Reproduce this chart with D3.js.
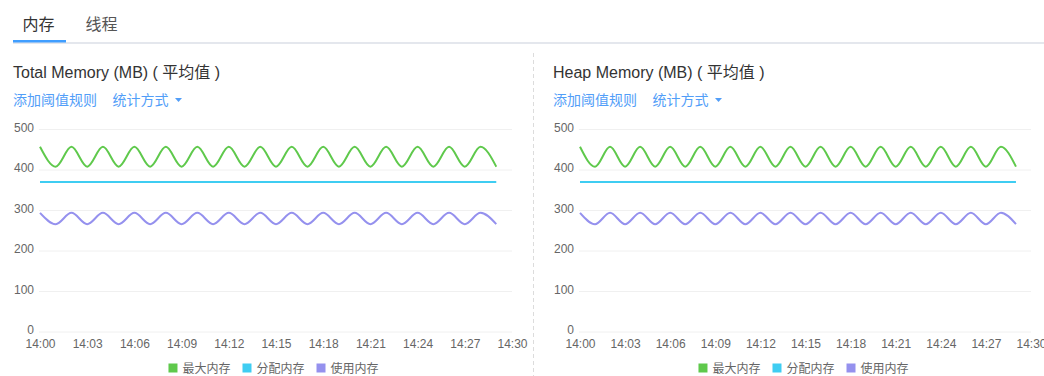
<!DOCTYPE html>
<html><head><meta charset="utf-8">
<script src="https://cdn.jsdelivr.net/npm/d3@7"></script>
<style>
html,body{margin:0;padding:0;background:#fff;overflow:hidden;}
svg{display:block;font-family:"Liberation Sans",Arial,"Noto Sans CJK SC",sans-serif;}
</style></head><body>
<svg id="c" width="1044" height="376"></svg>
<script>
// ---- data ----
const times = ["14:00","14:01","14:02","14:03","14:04","14:05","14:06","14:07","14:08","14:09",
               "14:10","14:11","14:12","14:13","14:14","14:15","14:16","14:17","14:18","14:19",
               "14:20","14:21","14:22","14:23","14:24","14:25","14:26","14:27","14:28","14:29"];
const maxMem   = [456,407,456,407,456,407,456,407,456,407,456,407,456,407,456,407,456,407,456,407,456,407,456,407,456,407,456,407,456,407];
const allocMem = [369,369,369,369,369,369,369,369,369,369,369,369,369,369,369,369,369,369,369,369,369,369,369,369,369,369,369,369,369,369];
const usedMem  = [293,265,293,265,293,265,293,265,293,265,293,265,293,265,293,265,293,265,293,265,293,265,293,265,293,265,293,265,293,265];
const seriesNames = ["最大内存","分配内存","使用内存"];
const seriesColors = ["#5fc94c","#3fcdf2","#9591ee"];
const yTicks = [0,100,200,300,400,500];
const xTicks = ["14:00","14:03","14:06","14:09","14:12","14:15","14:18","14:21","14:24","14:27","14:30"];
const tabs = ["内存","线程"];
const panelTitles = ["Total Memory (MB) ( 平均值 )","Heap Memory (MB) ( 平均值 )"];
const linkTexts = ["添加阈值规则","统计方式"];

const parse = d3.timeParse("%H:%M");
const svg = d3.select("#c");

// ---- tabs ----
svg.append("rect").attr("x",13).attr("y",42).attr("width",1031).attr("height",2).attr("fill","#e4e7ed");
svg.append("rect").attr("x",13).attr("y",40).attr("width",53).attr("height",2.5).attr("fill","#409eff");
svg.append("text").attr("x",22.5).attr("y",29.5).attr("font-size",16).attr("fill","#333").text(tabs[0]);
svg.append("text").attr("x",85.5).attr("y",29.5).attr("font-size",16).attr("fill","#555").text(tabs[1]);

// divider
svg.append("line").attr("x1",533.5).attr("x2",533.5).attr("y1",53).attr("y2",376)
  .attr("stroke","#dcdcdc").attr("stroke-dasharray","4,3");

const series = [maxMem, allocMem, usedMem];

function drawPanel(title, ox, x0, x1, legendCx) {
  const g = svg.append("g");
  g.append("text").attr("x",ox).attr("y",77.5).attr("font-size",16).attr("fill","#333").text(title);
  g.append("text").attr("x",ox).attr("y",104.5).attr("font-size",14).attr("fill","#529ef8").text(linkTexts[0]);
  g.append("text").attr("x",ox+99.5).attr("y",104.5).attr("font-size",14).attr("fill","#529ef8").text(linkTexts[1]);
  g.append("path").attr("d",`M${ox+162},98 L${ox+169},98 L${ox+165.5},102 Z`).attr("fill","#529ef8");

  const x = d3.scaleTime().domain([parse(xTicks[0]), parse(xTicks[xTicks.length-1])]).range([x0, x1]);
  const y = d3.scaleLinear().domain([0,500]).range([331.5,129]);

  const ya = g.append("g").attr("transform",`translate(${x0-1},0)`)
    .call(d3.axisLeft(y).tickValues(yTicks).tickSize(-(x1-x0+1)).tickPadding(5).tickFormat(d3.format("d")));
  ya.select(".domain").remove();
  ya.selectAll(".tick line").attr("stroke","#f0f0f0");
  ya.selectAll(".tick text").attr("fill","#666").attr("font-size",12).attr("dy","0.2em")
    .attr("font-family","Liberation Sans, Arial, sans-serif");

  const xa = g.append("g").attr("transform",`translate(0,331.5)`)
    .call(d3.axisBottom(x).tickValues(xTicks.map(parse)).tickSize(0).tickPadding(8).tickFormat(d3.timeFormat("%H:%M")));
  xa.select(".domain").remove();
  xa.selectAll(".tick text").attr("fill","#666").attr("font-size",12)
    .attr("font-family","Liberation Sans, Arial, sans-serif");

  const line = d3.line().x((d,i)=>x(parse(times[i]))).y(d=>y(d)).curve(d3.curveMonotoneX);
  series.forEach((s,k)=>{
    g.append("path").datum(s).attr("d",line).attr("fill","none")
      .attr("stroke",seriesColors[k]).attr("stroke-width",2);
  });

  // legend
  const lg = g.append("g");
  let cx = 0;
  seriesNames.forEach((n,k)=>{
    lg.append("rect").attr("x",cx).attr("y",363.5).attr("width",9).attr("height",9).attr("fill",seriesColors[k]);
    const t = lg.append("text").attr("x",cx+14).attr("y",373).attr("font-size",12).attr("fill","#666").text(n);
    cx += 14 + t.node().getComputedTextLength() + (k<seriesNames.length-1 ? 12 : 0);
  });
  lg.attr("transform",`translate(${legendCx - cx/2},0)`);
}

drawPanel(panelTitles[0], 13, 40, 512, 273.5);
drawPanel(panelTitles[1], 553, 580, 1031, 803.5);
</script>
</body></html>
